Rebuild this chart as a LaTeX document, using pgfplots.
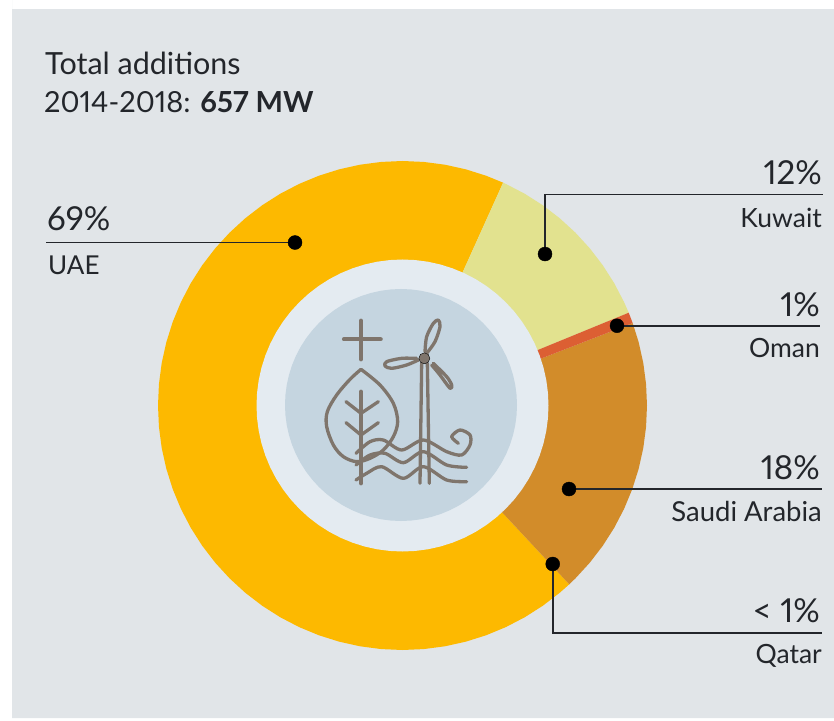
\documentclass[border=0pt]{standalone}
\usepackage{fontspec}
\setmainfont{Lato}[Numbers=Proportional]
\usepackage{pgfplots}
\usepgfplotslibrary{polar}
\pgfplotsset{compat=1.18}
\definecolor{bgc}{HTML}{E1E5E8}
\definecolor{uae}{HTML}{FDB900}
\definecolor{kuw}{HTML}{E2E28F}
\definecolor{oma}{HTML}{DC5F33}
\definecolor{sau}{HTML}{D28C2A}
\definecolor{ringc}{HTML}{E4EBF1}
\definecolor{disc}{HTML}{C5D5E0}
\definecolor{icon}{HTML}{7F756C}
\definecolor{txt}{HTML}{23262B}
\newcommand{\lab}[1]{\fontsize{#1pt}{#1pt}\selectfont}
\pgfplotsset{ic/.style={draw=icon,line width=3.3pt,no markers,line cap=round,line join=round}}
\begin{document}
\begin{tikzpicture}
% background
\begin{axis}[at={(0pt,0pt)},anchor=south west,width=834pt,height=720pt,scale only axis,hide axis,
  xmin=0,xmax=834,ymin=0,ymax=720,y dir=reverse,clip=false]
\addplot[fill=bgc,draw=none] coordinates {(12,9)(834,9)(834,718)(12,718)} \closedcycle;
\end{axis}
% donut
\begin{polaraxis}[at={(402.5pt,314.5pt)},anchor=center,width=500pt,height=500pt,scale only axis,hide axis,
  xmin=0,xmax=360,ymin=0,ymax=250,clip=false]
\addplot[fill=uae,draw=none] coordinates {(0,0)(65.7,244.5)(70,244.5)(75,244.5)(80,244.5)(85,244.5)(90,244.5)(95,244.5)(100,244.5)(105,244.5)(110,244.5)(115,244.5)(120,244.5)(125,244.5)(130,244.5)(135,244.5)(140,244.5)(145,244.5)(150,244.5)(155,244.5)(160,244.5)(165,244.5)(170,244.5)(175,244.5)(180,244.5)(185,244.5)(190,244.5)(195,244.5)(200,244.5)(205,244.5)(210,244.5)(215,244.5)(220,244.5)(225,244.5)(230,244.5)(235,244.5)(240,244.5)(245,244.5)(250,244.5)(255,244.5)(260,244.5)(265,244.5)(270,244.5)(275,244.5)(280,244.5)(285,244.5)(290,244.5)(295,244.5)(300,244.5)(305,244.5)(310,244.5)(313,244.5)} -- cycle;
\addplot[fill=kuw,draw=none] coordinates {(0,0)(22.3,244.5)(25,244.5)(30,244.5)(35,244.5)(40,244.5)(45,244.5)(50,244.5)(55,244.5)(60,244.5)(65,244.5)(65.7,244.5)} -- cycle;
\addplot[fill=sau,draw=none] coordinates {(0,0)(-47,244.5)(-45,244.5)(-40,244.5)(-35,244.5)(-30,244.5)(-25,244.5)(-20,244.5)(-15,244.5)(-10,244.5)(-5,244.5)(0,244.5)(5,244.5)(10,244.5)(15,244.5)(19.7,244.5)(18.6,140)} -- cycle;
\addplot[fill=oma,draw=none] coordinates {(18.6,140)(19.7,244.5)(22.3,244.5)(22.3,140)} -- cycle;
\addplot[fill=ringc,draw=none] coordinates {(0,146)(5,146)(10,146)(15,146)(20,146)(25,146)(30,146)(35,146)(40,146)(45,146)(50,146)(55,146)(60,146)(65,146)(70,146)(75,146)(80,146)(85,146)(90,146)(95,146)(100,146)(105,146)(110,146)(115,146)(120,146)(125,146)(130,146)(135,146)(140,146)(145,146)(150,146)(155,146)(160,146)(165,146)(170,146)(175,146)(180,146)(185,146)(190,146)(195,146)(200,146)(205,146)(210,146)(215,146)(220,146)(225,146)(230,146)(235,146)(240,146)(245,146)(250,146)(255,146)(260,146)(265,146)(270,146)(275,146)(280,146)(285,146)(290,146)(295,146)(300,146)(305,146)(310,146)(315,146)(320,146)(325,146)(330,146)(335,146)(340,146)(345,146)(350,146)(355,146)} -- cycle;
\end{polaraxis}
\begin{polaraxis}[at={(401pt,315pt)},anchor=center,width=500pt,height=500pt,scale only axis,hide axis,
  xmin=0,xmax=360,ymin=0,ymax=250,clip=false]
\addplot[fill=disc,draw=none] coordinates {(0,116)(5,116)(10,116)(15,116)(20,116)(25,116)(30,116)(35,116)(40,116)(45,116)(50,116)(55,116)(60,116)(65,116)(70,116)(75,116)(80,116)(85,116)(90,116)(95,116)(100,116)(105,116)(110,116)(115,116)(120,116)(125,116)(130,116)(135,116)(140,116)(145,116)(150,116)(155,116)(160,116)(165,116)(170,116)(175,116)(180,116)(185,116)(190,116)(195,116)(200,116)(205,116)(210,116)(215,116)(220,116)(225,116)(230,116)(235,116)(240,116)(245,116)(250,116)(255,116)(260,116)(265,116)(270,116)(275,116)(280,116)(285,116)(290,116)(295,116)(300,116)(305,116)(310,116)(315,116)(320,116)(325,116)(330,116)(335,116)(340,116)(345,116)(350,116)(355,116)} -- cycle;
\end{polaraxis}
% icon (coordinates in a 780x750 grid over the disc)
\begin{axis}[at={(270pt,190pt)},anchor=south west,width=260pt,height=250pt,scale only axis,hide axis,
  xmin=0,xmax=780,ymin=0,ymax=750,y dir=reverse,clip=false]
\addplot[ic,line width=4.2pt] coordinates {(222,178)(332,178)};
\addplot[ic,line width=4.2pt] coordinates {(273,122)(273,238)};
\addplot[ic,smooth,tension=0.55] coordinates {(273,268)(330,315)(370,370)(383,425)(370,470)(340,510)(300,535)(260,545)(220,530)(190,495)(170,440)(172,395)(200,345)(240,298)(273,268)};
\addplot[ic,line width=4.2pt] coordinates {(273,335)(273,610)};
\addplot[ic] coordinates {(228,365)(273,400)(325,365)};
\addplot[ic] coordinates {(228,428)(273,465)(325,428)};
\addplot[ic,smooth] coordinates {(258,520)(300,485)(340,480)(395,510)(460,480)(530,515)(575,525)(600,495)(600,465)(570,450)(545,470)(565,490)};
\addplot[ic,smooth] coordinates {(258,555)(300,525)(345,520)(400,548)(460,515)(530,555)(590,562)};
\addplot[ic,smooth] coordinates {(258,600)(290,580)(335,560)(400,595)(460,560)(530,600)(590,605)};
\addplot[ic] coordinates {(450,610)(455,250)};
\addplot[ic] coordinates {(478,610)(472,250)};
\addplot[ic,smooth] coordinates {(465,215)(470,170)(490,130)(505,120)(510,140)(495,185)(470,220)};
\addplot[ic,smooth] coordinates {(440,235)(395,235)(350,245)(345,258)(365,265)(410,255)(445,240)};
\addplot[ic,smooth] coordinates {(485,255)(510,285)(540,325)(545,315)(530,290)(490,250)};
\addplot[only marks,mark=*,mark size=5.5pt,mark options={fill=icon,draw=none}] coordinates {(463,235)};
\end{axis}
% labels, leaders
\begin{axis}[at={(0pt,0pt)},anchor=south west,width=834pt,height=720pt,scale only axis,hide axis,
  xmin=0,xmax=834,ymin=0,ymax=720,y dir=reverse,clip=false]
\addplot[draw=txt,line width=1.6pt] coordinates {(46,242.5)(295,242.5)};
\addplot[draw=txt,line width=1.6pt] coordinates {(545,254)(545,194.5)(823,194.5)};
\addplot[draw=txt,line width=1.6pt] coordinates {(617,325.7)(820,325.7)};
\addplot[draw=txt,line width=1.6pt] coordinates {(569,489)(822,489)};
\addplot[draw=txt,line width=1.6pt] coordinates {(552.7,564)(552.7,633)(822,633)};
\addplot[only marks,mark=*,mark size=7pt,mark options={fill=black,draw=none}] coordinates {(295,242.5)(545,254)(617,325.7)(569,489)(552.7,564)};
\node[anchor=base west,inner sep=0pt,text=txt] at (axis cs:45,74) {\lab{30.5}Total additions};
\node[anchor=base west,inner sep=0pt,text=txt] at (axis cs:44,112) {\lab{29}2014-2018: \textbf{657 MW}};
\node[anchor=base west,inner sep=0pt,text=txt] at (axis cs:47,230) {\lab{33}69\%};
\node[anchor=base west,inner sep=0pt,text=txt] at (axis cs:48,274) {\lab{26}UAE};
\node[anchor=base east,inner sep=0pt,text=txt] at (axis cs:822,184) {\lab{33}12\%};
\node[anchor=base east,inner sep=0pt,text=txt] at (axis cs:822,227) {\lab{26.5}Kuwait};
\node[anchor=base east,inner sep=0pt,text=txt] at (axis cs:820,316) {\lab{33}1\%};
\node[anchor=base east,inner sep=0pt,text=txt] at (axis cs:820,357) {\lab{26.5}Oman};
\node[anchor=base east,inner sep=0pt,text=txt] at (axis cs:820,479) {\lab{33}18\%};
\node[anchor=base east,inner sep=0pt,text=txt] at (axis cs:822,521) {\lab{27.5}Saudi Arabia};
\node[anchor=base east,inner sep=0pt,text=txt] at (axis cs:820,622) {\lab{33}< 1\%};
\node[anchor=base east,inner sep=0pt,text=txt] at (axis cs:822,663) {\lab{26.5}Qatar};
\end{axis}
\pgfresetboundingbox
\path[use as bounding box] (0pt,0pt) rectangle (834pt,720pt);
\end{tikzpicture}
\end{document}
